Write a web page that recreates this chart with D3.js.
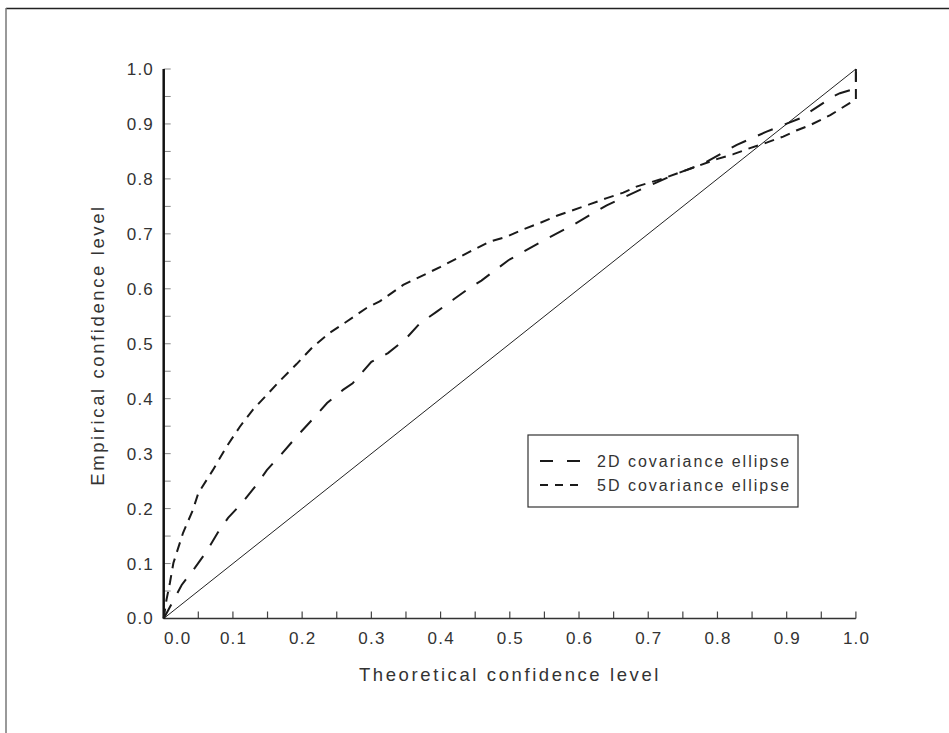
<!DOCTYPE html>
<html>
<head>
<meta charset="utf-8">
<script src="https://cdn.jsdelivr.net/npm/d3@7"></script>
<style>
  html, body { margin: 0; padding: 0; background: #fff; }
  svg { display: block; }
  text { font-family: "Liberation Sans", Arial, sans-serif; fill: #333; }
</style>
</head>
<body>
<svg id="chart" width="949" height="733"></svg>
<script>
// Theoretical vs empirical confidence level of covariance ellipses
const ticksMajor = [0, 0.1, 0.2, 0.3, 0.4, 0.5, 0.6, 0.7, 0.8, 0.9, 1.0];
const ticksMinor = [0.05, 0.15, 0.25, 0.35, 0.45, 0.55, 0.65, 0.75, 0.85, 0.95];

const seriesNames = ["2D covariance ellipse", "5D covariance ellipse"];

const theo2D = [0, 0.026, 0.045, 0.062, 0.078, 0.093, 0.113, 0.134, 0.149, 0.170, 0.192, 0.214,
  0.236, 0.259, 0.273, 0.281, 0.300, 0.324, 0.349, 0.370, 0.394, 0.418, 0.440, 0.459, 0.498,
  0.546, 0.591, 0.640, 0.693, 0.736, 0.780, 0.828, 0.871, 0.919, 0.967, 0.977, 0.993, 1.0, 1.0];
const emp2D = [0, 0.061, 0.092, 0.122, 0.156, 0.183, 0.210, 0.243, 0.270, 0.299, 0.331, 0.361,
  0.392, 0.416, 0.428, 0.440, 0.467, 0.483, 0.508, 0.537, 0.558, 0.580, 0.600, 0.615, 0.652,
  0.686, 0.716, 0.752, 0.783, 0.807, 0.828, 0.862, 0.886, 0.910, 0.950, 0.956, 0.962, 0.965, 1.0];

const theo5D = [0, 0.004, 0.009, 0.014, 0.028, 0.042, 0.050, 0.071, 0.091, 0.110, 0.129, 0.149,
  0.169, 0.192, 0.216, 0.240, 0.264, 0.293, 0.312, 0.346, 0.400, 0.443, 0.471, 0.496, 0.519,
  0.544, 0.568, 0.591, 0.616, 0.640, 0.664, 0.683, 0.720, 0.775, 0.799, 0.823, 0.847, 0.871,
  0.895, 0.914, 0.934, 0.963, 0.991, 1.0, 1.0];
const emp5D = [0, 0.034, 0.065, 0.101, 0.156, 0.197, 0.228, 0.270, 0.313, 0.349, 0.380, 0.407,
  0.434, 0.463, 0.495, 0.520, 0.540, 0.565, 0.577, 0.607, 0.640, 0.668, 0.686, 0.695, 0.708,
  0.720, 0.733, 0.743, 0.754, 0.765, 0.775, 0.786, 0.800, 0.825, 0.836, 0.845, 0.856, 0.866,
  0.877, 0.888, 0.898, 0.916, 0.938, 0.945, 1.0];

const svg = d3.select("#chart");

// figure frame (top and left edges)
svg.append("line").attr("x1", 6).attr("x2", 949).attr("y1", 8.5).attr("y2", 8.5)
  .attr("stroke", "#222").attr("stroke-width", 1.5);
svg.append("line").attr("x1", 6).attr("x2", 6).attr("y1", 8).attr("y2", 733)
  .attr("stroke", "#777").attr("stroke-width", 1.5);

const x = d3.scaleLinear().domain([0, 1]).range([163.7, 855.9]);
const y = d3.scaleLinear().domain([0, 1]).range([618.5, 69]);

const g = svg.append("g");

// y ticks (pointing into the plot)
g.selectAll("line.yt").data(ticksMajor.concat(ticksMinor)).join("line")
  .attr("x1", x(0)).attr("x2", x(0) + 7)
  .attr("y1", d => y(d)).attr("y2", d => y(d))
  .attr("stroke", "#888").attr("stroke-width", 1);
// x ticks (pointing up)
g.selectAll("line.xt").data(ticksMajor.concat(ticksMinor).filter(d => d > 0)).join("line")
  .attr("x1", d => x(d)).attr("x2", d => x(d))
  .attr("y1", y(0)).attr("y2", y(0) - 7)
  .attr("stroke", "#444").attr("stroke-width", 1.2);

// axis lines
g.append("line").attr("x1", x(0)).attr("x2", x(1)).attr("y1", y(0)).attr("y2", y(0))
  .attr("stroke", "#333").attr("stroke-width", 1.6);
g.append("line").attr("x1", x(0)).attr("x2", x(0)).attr("y1", y(1)).attr("y2", y(0))
  .attr("stroke", "#111").attr("stroke-width", 2.5);

const fmt = d3.format(".1f");
// y tick labels
g.selectAll("text.yl").data(ticksMajor).join("text")
  .attr("x", 154).attr("y", d => y(d)).attr("dy", "0.35em")
  .attr("text-anchor", "end").attr("font-size", 17).attr("letter-spacing", 1.2)
  .text(d => fmt(d));
// x tick labels
g.selectAll("text.xl").data(ticksMajor).join("text")
  .attr("x", d => d === 0 ? x(d) + 14 : x(d) + 0.6).attr("y", 643.5)
  .attr("text-anchor", "middle").attr("font-size", 17).attr("letter-spacing", 1.2)
  .text(d => fmt(d));

// axis titles
svg.append("text").attr("x", 510).attr("y", 681).attr("text-anchor", "middle")
  .attr("font-size", 18.5).attr("letter-spacing", 2.6).attr("fill", "#222")
  .text("Theoretical confidence level");
svg.append("text").attr("transform", "translate(104,345) rotate(-90)").attr("text-anchor", "middle")
  .attr("font-size", 18.5).attr("letter-spacing", 2.6).attr("fill", "#222")
  .text("Empirical confidence level");

// reference diagonal
svg.append("line").attr("x1", x(0)).attr("y1", y(0)).attr("x2", x(1)).attr("y2", y(1))
  .attr("stroke", "#222").attr("stroke-width", 1);

const line = d3.line().x(d => x(d[0])).y(d => y(d[1]));
const dashes = ["16,13", "10,7"];
const data2D = theo2D.map((t, i) => [t, emp2D[i]]);
const data5D = theo5D.map((t, i) => [t, emp5D[i]]);
[data2D, data5D].forEach((d, i) => {
  svg.append("path").datum(d).attr("d", line)
    .attr("fill", "none").attr("stroke", "#1a1a1a").attr("stroke-width", 2)
    .attr("stroke-dasharray", dashes[i]);
});

// legend
const lg = svg.append("g");
lg.append("rect").attr("x", 528).attr("y", 435).attr("width", 270).attr("height", 72)
  .attr("fill", "#fff").attr("stroke", "#333").attr("stroke-width", 1.2);
seriesNames.forEach((name, i) => {
  const ly = 461 + i * 24;
  lg.append("line").attr("x1", 540).attr("x2", 582).attr("y1", ly).attr("y2", ly)
    .attr("stroke", "#1a1a1a").attr("stroke-width", 1.8)
    .attr("stroke-dasharray", i === 0 ? "13,14" : "8,7");
  lg.append("text").attr("x", 597).attr("y", ly).attr("dy", "0.35em")
    .attr("font-size", 16).attr("letter-spacing", 2).text(name);
});
</script>
</body>
</html>
